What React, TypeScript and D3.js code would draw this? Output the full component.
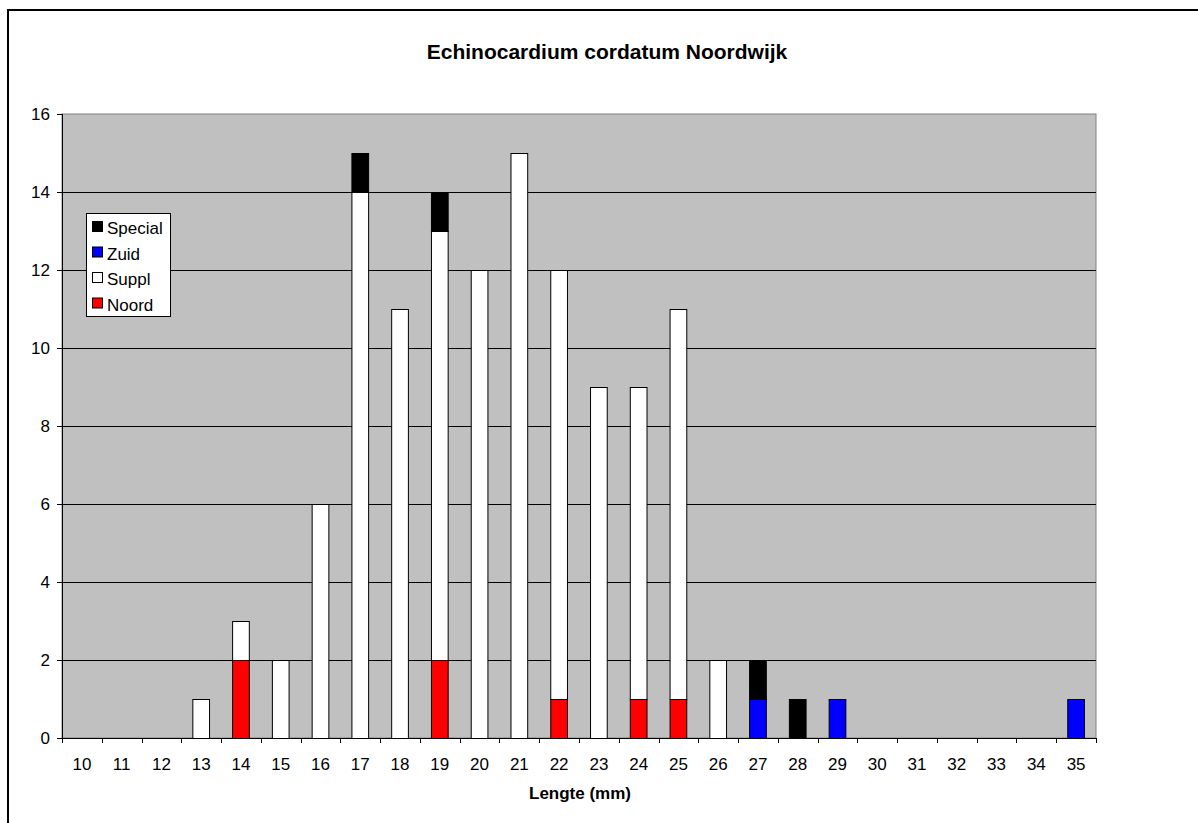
import React from "react";
import * as d3 from "d3";

// Length classes (mm) and counts per origin
const lengths = ["10","11","12","13","14","15","16","17","18","19","20","21","22","23","24","25","26","27","28","29","30","31","32","33","34","35"];
const noord   = [0,0,0,0,2,0,0,0,0,2,0,0,1,0,1,1,0,0,0,0,0,0,0,0,0,0];
const suppl   = [0,0,0,1,1,2,6,14,11,11,12,15,11,9,8,10,2,0,0,0,0,0,0,0,0,0];
const zuid    = [0,0,0,0,0,0,0,0,0,0,0,0,0,0,0,0,0,1,0,1,0,0,0,0,0,1];
const special = [0,0,0,0,0,0,0,1,0,1,0,0,0,0,0,0,0,1,1,0,0,0,0,0,0,0];
const yTicks = [0,2,4,6,8,10,12,14,16];

const seriesNames = ["Noord", "Suppl", "Zuid", "Special"];
const seriesColors: Record<string, string> = { Noord: "#ff0000", Suppl: "#ffffff", Zuid: "#0000ff", Special: "#000000" };

const W = 1198, H = 823;
const plot = { left: 62, top: 114, right: 1096, bottom: 738 };
const font = "'Liberation Sans', Arial, sans-serif";

export default function App() {
  const rows = lengths.map((l, i) => ({ l, Noord: noord[i], Suppl: suppl[i], Zuid: zuid[i], Special: special[i] }));
  const stack = d3.stack<any>().keys(seriesNames)(rows);

  const x = d3.scaleBand().domain(lengths).range([plot.left, plot.right]).paddingInner(0).paddingOuter(0);
  const y = d3.scaleLinear().domain([0, 16]).range([plot.bottom, plot.top]);
  const bw = x.bandwidth() * 0.42;

  const legendItems = [...seriesNames].reverse();

  return (
    <svg width={W} height={H} style={{ position: "absolute", left: 0, top: 0, fontFamily: font }}>
      <rect x={0} y={0} width={W} height={H} fill="#fff" />
      <rect x={8} y={10} width={W + 20} height={H + 20} fill="none" stroke="#000" strokeWidth={2} />
      <text x={607} y={59} textAnchor="middle" fontSize={21} fontWeight="bold">
        Echinocardium cordatum Noordwijk
      </text>

      {/* plot area */}
      <rect x={plot.left} y={plot.top} width={plot.right - plot.left} height={plot.bottom - plot.top} fill="#c0c0c0" stroke="#808080" strokeWidth={1} />

      {/* gridlines */}
      {yTicks.filter(t => t > 0 && t < 16).map(t => (
        <line key={t} x1={plot.left} x2={plot.right} y1={y(t) + 0.5} y2={y(t) + 0.5} stroke="#000" strokeWidth={1} />
      ))}

      {/* bars */}
      {stack.map(s => (
        <g key={s.key}>
          {s.map((d, i) => {
            const h = y(d[0]) - y(d[1]);
            if (h <= 0) return null;
            return (
              <rect key={i}
                x={x(lengths[i])! + (x.bandwidth() - bw) / 2}
                y={y(d[1]) + 0.5}
                width={bw}
                height={h}
                fill={seriesColors[s.key]}
                stroke="#000"
                strokeWidth={1} />
            );
          })}
        </g>
      ))}

      {/* y axis */}
      <line x1={plot.left + 0.5} x2={plot.left + 0.5} y1={plot.top} y2={plot.bottom} stroke="#000" />
      {yTicks.map(t => (
        <g key={t}>
          <line x1={plot.left - 5} x2={plot.left} y1={y(t) + 0.5} y2={y(t) + 0.5} stroke="#000" />
          <text x={plot.left - 12} y={y(t) + 6} textAnchor="end" fontSize={17}>{t}</text>
        </g>
      ))}

      {/* x axis */}
      <line x1={plot.left} x2={plot.right} y1={plot.bottom + 0.5} y2={plot.bottom + 0.5} stroke="#000" />
      {d3.range(lengths.length + 1).map(i => {
        const xx = Math.round(plot.left + i * x.step()) + 0.5;
        return <line key={i} x1={xx} x2={xx} y1={plot.bottom} y2={plot.bottom + 5} stroke="#000" />;
      })}
      {lengths.map(l => (
        <text key={l} x={x(l)! + x.bandwidth() / 2} y={770} textAnchor="middle" fontSize={17}>{l}</text>
      ))}
      <text x={580} y={799} textAnchor="middle" fontSize={17} fontWeight="bold">Lengte (mm)</text>

      {/* legend */}
      <rect x={86.5} y={213.5} width={84} height={103} fill="#fff" stroke="#000" />
      {legendItems.map((name, i) => (
        <g key={name}>
          <rect x={92.5} y={221.5 + i * 25.5} width={10} height={10} fill={seriesColors[name]} stroke="#000" />
          <text x={107} y={234 + i * 25.5} fontSize={17}>{name}</text>
        </g>
      ))}
    </svg>
  );
}
